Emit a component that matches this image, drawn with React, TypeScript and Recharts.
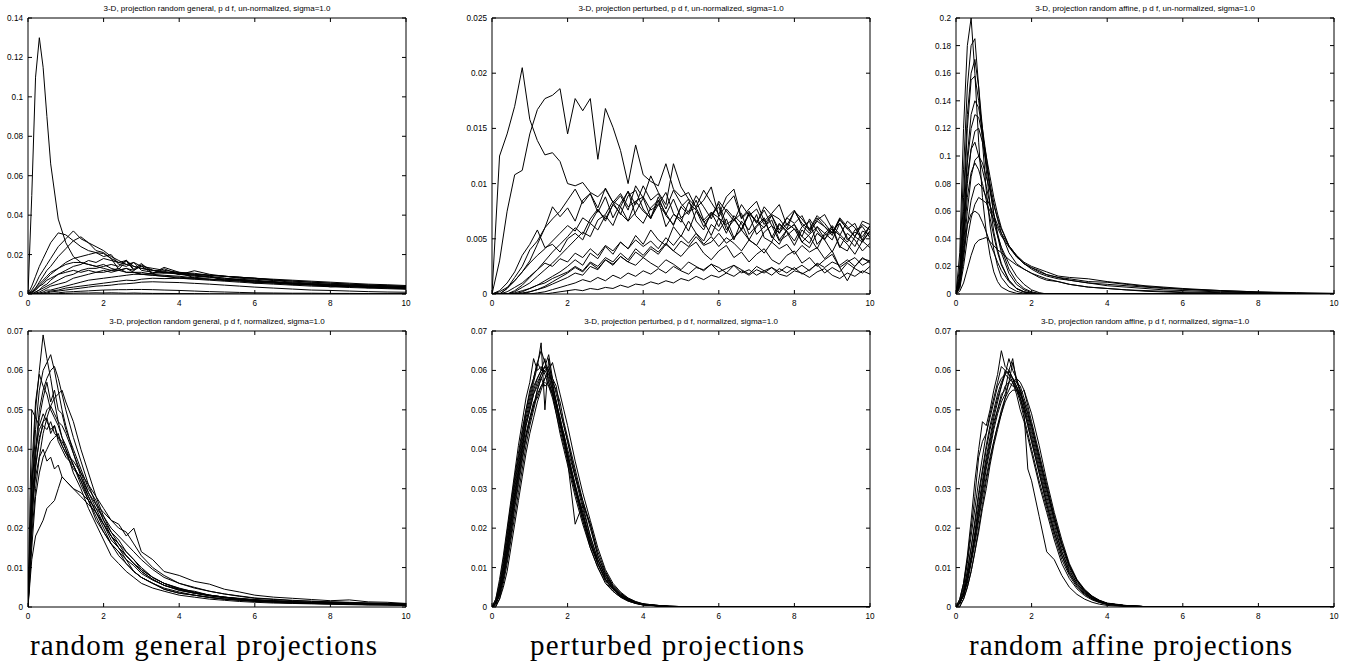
import React from 'react';
import { LineChart, Line, XAxis, YAxis, ReferenceArea } from 'recharts';

// x grids (distance) for each panel
const xsGeneralRaw = [0, .1, .2, .3, .4, .5, .6, .8, 1, 1.2, 1.4, 1.6, 1.8, 2, 2.2, 2.4, 2.6, 2.8, 3, 3.3, 3.6, 4, 4.4, 4.8, 5.2, 5.6, 6, 6.5, 7, 7.5, 8, 8.5, 9, 9.5, 10];
const xsPerturbedRaw = [0, .2, .4, .6, .8, 1, 1.2, 1.4, 1.6, 1.8, 2, 2.2, 2.4, 2.6, 2.8, 3, 3.2, 3.4, 3.6, 3.8, 4, 4.2, 4.4, 4.6, 4.8, 5, 5.2, 5.4, 5.6, 5.8, 6, 6.2, 6.4, 6.6, 6.8, 7, 7.2, 7.4, 7.6, 7.8, 8, 8.2, 8.4, 8.6, 8.8, 9, 9.2, 9.4, 9.6, 9.8, 10];
const xsAffineRaw = [0, .1, .2, .3, .4, .5, .6, .7, .8, .9, 1, 1.1, 1.2, 1.4, 1.6, 1.8, 2, 2.2, 2.4, 2.7, 3, 3.5, 4, 4.5, 5, 5.5, 6, 7, 8, 9, 10];
const xsGeneralNorm = [0, .1, .2, .3, .4, .5, .6, .7, .8, .9, 1, 1.2, 1.4, 1.6, 1.8, 2, 2.2, 2.4, 2.6, 2.8, 3, 3.3, 3.6, 4, 4.4, 4.8, 5.2, 5.6, 6, 6.5, 7, 7.5, 8, 8.5, 9, 9.5, 10];
const xsBell = [0, .1, .2, .3, .4, .5, .6, .7, .8, .9, 1, 1.1, 1.2, 1.3, 1.4, 1.5, 1.6, 1.7, 1.8, 1.9, 2, 2.2, 2.4, 2.6, 2.8, 3, 3.2, 3.4, 3.6, 3.8, 4, 4.5, 5, 6, 7, 8, 9, 10];

const xTicks = [0, 2, 4, 6, 8, 10];
const ticksGeneralRaw = [0, 0.02, 0.04, 0.06, 0.08, 0.1, 0.12, 0.14];
const ticksPerturbedRaw = [0, 0.005, 0.01, 0.015, 0.02, 0.025];
const ticksAffineRaw = [0, 0.02, 0.04, 0.06, 0.08, 0.1, 0.12, 0.14, 0.16, 0.18, 0.2];
const ticksNorm = [0, 0.01, 0.02, 0.03, 0.04, 0.05, 0.06, 0.07];

const generalRaw = [
  [0, .05, .11, .13, .115, .09, .066, .038, .026, .019, .016, .015, .014, .013, .012, .013, .011, .011, .010, .0095, .009, .008, .0075, .007, .0065, .006, .0055, .005, .0045, .004, .0037, .0033, .003, .0027, .0024],
  [0, .004, .009, .014, .018, .022, .026, .031, .030, .027, .024, .022, .021, .019, .020, .015, .014, .016, .012, .011, .0105, .0108, .0082, .0091, .0068, .0074, .0055, .0063, .0047, .0052, .0036, .0043, .0031, .0036, .0026],
  [0, .002, .005, .009, .012, .015, .018, .024, .028, .032, .028, .026, .022, .021, .018, .016, .017, .014, .013, .012, .011, .010, .009, .0085, .0075, .007, .0065, .006, .0052, .0047, .0043, .004, .0036, .0032, .003],
  [0, .001, .003, .006, .009, .012, .014, .019, .023, .027, .029, .026, .024, .022, .019, .017, .015, .014, .013, .012, .0115, .010, .0095, .0085, .008, .0072, .0066, .006, .0054, .0049, .0045, .004, .0037, .0034, .0031],
  [0, .001, .002, .004, .006, .008, .010, .013, .016, .018, .019, .020, .021, .0205, .018, .0125, .0168, .012, .0148, .012, .011, .0105, .0095, .009, .008, .0075, .007, .0062, .0056, .005, .0046, .0042, .0038, .0035, .0032],
  [0, 0, .001, .002, .004, .005, .007, .010, .012, .014, .015, .017, .016, .018, .017, .016, .015, .016, .014, .013, .012, .011, .0105, .0095, .009, .008, .0075, .0068, .006, .0055, .005, .0045, .0041, .0037, .0034],
  [0, 0, .001, .002, .003, .004, .005, .007, .009, .010, .012, .013, .013, .014, .015, .014, .0172, .0125, .0155, .0105, .0135, .011, .010, .0095, .009, .0085, .008, .007, .0065, .006, .0055, .005, .0045, .0042, .0038],
  [0, 0, .0005, .001, .002, .003, .004, .005, .006, .008, .009, .010, .011, .011, .012, .012, .013, .012, .0142, .0102, .0128, .0098, .0118, .010, .009, .0085, .008, .0072, .0066, .006, .0055, .005, .0046, .0042, .004],
  [0, 0, 0, .0005, .001, .002, .002, .003, .004, .005, .006, .007, .0075, .008, .0085, .009, .0095, .010, .010, .0105, .011, .0105, .010, .0095, .009, .0085, .008, .0075, .007, .0065, .006, .0055, .005, .0047, .0043],
  [0, 0, 0, 0, .0005, .001, .0015, .002, .003, .0035, .004, .0045, .005, .0055, .006, .0065, .007, .0068, .0075, .008, .0078, .008, .0077, .0075, .0072, .007, .0066, .006, .0056, .0052, .0048, .0045, .0042, .004, .0037],
  [0, 0, 0, 0, 0, .0005, .001, .0015, .002, .0025, .003, .0035, .004, .0042, .0045, .005, .0052, .0055, .006, .0062, .006, .0058, .0054, .005, .0045, .004, .0035, .003, .0025, .002, .0018, .0015, .0012, .001, .0009],
  [0, 0, 0, 0, 0, 0, .0003, .0006, .001, .0012, .0014, .0016, .0018, .002, .0021, .0022, .0022, .0023, .0023, .0022, .002, .0018, .0015, .0012, .001, .0008, .0006, .0005, .0004, .0004, .0003, .0003, .0002, .0002, .0002],
  [0, 0, 0, 0, 0, 0, 0, .0002, .0003, .0004, .0005, .0005, .0006, .0005, .0006, .0005, .0004, .0005, .0004, .0003, .0003, .0002, .0002, .0001, .0001, 0, 0, 0, 0, 0, 0, 0, 0, 0, 0],
  [0, .001, .003, .005, .007, .009, .011, .013, .015, .016, .016, .015, .014, .015, .013, .012, .013, .011, .011, .010, .0095, .009, .0082, .0075, .007, .0065, .006, .0055, .005, .0045, .0041, .0037, .0034, .003, .0027],
  [0, .0005, .002, .004, .005, .007, .008, .010, .011, .012, .011, .012, .011, .012, .011, .012, .011, .011, .010, .0095, .009, .0085, .008, .0075, .007, .0066, .006, .0055, .005, .0046, .0042, .0038, .0035, .0032, .003],
];

const perturbedRaw = [
  [0, .0125, .0145, .017, .0205, .0158, .0139, .0126, .0128, .012, .010, .0098, .0101, .0092, .0088, .0095, .0083, .0091, .0079, .0084, .0088, .0076, .0081, .0072, .0086, .0069, .0075, .0078, .0065, .0071, .0082, .0063, .0068, .0058, .0074, .0066, .006, .0071, .0055, .0064, .0059, .0052, .0068, .0057, .0049, .0062, .0054, .0047, .0058, .0061, .0051],
  [0, .003, .0075, .0108, .0112, .0145, .0167, .0177, .018, .0186, .0145, .0177, .0166, .0177, .0122, .0168, .0151, .013, .010, .0135, .0108, .0102, .0098, .0118, .0095, .0088, .0092, .0078, .0085, .0097, .007, .0081, .0089, .0068, .0075, .0064, .0079, .0071, .0058, .0069, .0076, .0062, .0055, .0067, .0072, .0059, .0053, .0066, .006, .0048, .0057],
  [0, 0, .0005, .0015, .0025, .004, .0048, .006, .0068, .0075, .0085, .0095, .0082, .0091, .0078, .0096, .0083, .0072, .0089, .0094, .0077, .0068, .0085, .0073, .0062, .0079, .0086, .0066, .0058, .0074, .0069, .0055, .0071, .0064, .0049, .0061, .0067, .0052, .0045, .0058, .0063, .0047, .0042, .0055, .0049, .0038, .0052, .0045, .0036, .0048, .0042],
  [0, .0003, .001, .002, .0035, .0045, .0058, .0042, .0045, .0038, .005, .0055, .0049, .0064, .0058, .0071, .0062, .0079, .0066, .0074, .0087, .0069, .0081, .0092, .0073, .0065, .0083, .0076, .0061, .0072, .0079, .0058, .0067, .0073, .0054, .0062, .0069, .0051, .0064, .0057, .0048, .0061, .0066, .0045, .0053, .0059, .0042, .0055, .0049, .0039, .0046],
  [0, 0, .0005, .0012, .002, .003, .0045, .006, .0079, .007, .0078, .0066, .0085, .0091, .0074, .0088, .0069, .0082, .0093, .0071, .0064, .0078, .0085, .0061, .0072, .0068, .0057, .0075, .0066, .0053, .0069, .0062, .0049, .0066, .0058, .0072, .0051, .0047, .0063, .0056, .0044, .0058, .0052, .0041, .0055, .0061, .0043, .0039, .0052, .0047, .0057],
  [0, 0, 0, .0003, .0008, .0015, .0022, .003, .0038, .0045, .0052, .006, .0054, .0068, .0077, .0066, .0081, .0089, .0076, .0098, .0087, .0107, .0092, .0081, .0118, .0097, .0086, .0079, .0094, .0083, .0072, .0088, .0095, .0069, .0077, .0084, .0066, .0073, .0081, .0062, .0075, .0068, .0059, .0071, .0064, .0055, .0069, .0061, .0052, .0066, .0063],
  [0, 0, 0, 0, .0002, .0005, .0008, .0012, .0016, .002, .0025, .0031, .0026, .0037, .0032, .0043, .0036, .0047, .0041, .0053, .0045, .0058, .0049, .0044, .0061, .0052, .0066, .0055, .0048, .0063, .0057, .0068, .0051, .0059, .0072, .0054, .0061, .0067, .0049, .0058, .0063, .0052, .0046, .0061, .0055, .0049, .0064, .0051, .0043, .0057, .0054],
  [0, 0, 0, 0, 0, .0002, .0004, .0006, .0009, .0012, .0015, .0019, .0017, .0025, .0022, .0031, .0026, .0034, .0029, .0038, .0033, .0041, .0036, .0045, .0039, .0048, .0043, .0052, .0044, .0047, .0055, .0046, .0051, .0058, .0049, .0044, .0056, .0062, .0048, .0053, .0059, .0047, .0054, .0061, .005, .0057, .0064, .0049, .0056, .0052, .0062],
  [0, 0, 0, .0001, .0003, .0005, .0008, .001, .0014, .0017, .002, .0025, .0021, .0029, .0025, .0033, .0029, .0037, .0031, .0041, .0035, .0043, .0038, .0046, .0039, .0034, .0042, .0047, .0037, .0031, .0039, .0044, .0033, .0038, .0029, .0036, .0041, .0031, .0027, .0035, .0039, .0028, .0033, .0025, .0031, .0036, .0024, .0029, .0033, .0026, .003],
  [0, 0, 0, 0, 0, 0, .0001, .0002, .0004, .0006, .0008, .001, .0013, .0011, .0015, .0012, .0017, .0014, .0019, .0016, .0021, .0018, .0023, .0019, .0025, .0021, .0018, .0024, .0022, .0027, .002, .0023, .0026, .0019, .0022, .0017, .0021, .0024, .0018, .0016, .0021, .0019, .0015, .002, .0023, .0017, .0014, .0019, .0016, .0021, .0018],
  [0, 0, 0, 0, 0, 0, 0, 0, .0001, .0002, .0003, .0004, .0003, .0005, .0004, .0006, .0005, .0008, .0006, .0009, .0008, .0011, .0009, .0012, .001, .0014, .0012, .0016, .0013, .0017, .0015, .0019, .0016, .0021, .0017, .0022, .0019, .0024, .002, .0025, .0022, .0026, .0021, .0028, .0024, .0029, .0026, .0031, .0025, .0032, .003],
  [0, 0, 0, .0002, .0006, .001, .0016, .0022, .0028, .0035, .0042, .0049, .0056, .0052, .0067, .0072, .0084, .0079, .0093, .0081, .0098, .0085, .0091, .0077, .0094, .0082, .0074, .0089, .0079, .0068, .0084, .0075, .0066, .0081, .0071, .0077, .0063, .0072, .0068, .0059, .0075, .0064, .0058, .0069, .0061, .0055, .0067, .0059, .0052, .0063, .0058],
  [0, 0, .0002, .0006, .001, .0016, .0022, .0028, .0025, .0032, .0029, .0037, .0033, .0041, .0035, .0044, .0039, .0047, .0041, .0049, .0043, .0048, .0041, .0051, .0044, .0053, .0046, .0055, .0045, .0052, .0043, .0051, .0046, .0039, .0049, .0044, .0037, .0047, .0041, .0045, .0036, .0044, .0038, .0042, .0032, .0039, .0024, .0012, .0025, .0033, .0028],
  [0, 0, 0, 0, .0001, .0002, .0004, .0007, .0011, .0015, .0019, .0024, .002, .0028, .0023, .0031, .0027, .0034, .0029, .0026, .0033, .0028, .0024, .0031, .0027, .0022, .0029, .0025, .0021, .0027, .0024, .0019, .0026, .0022, .0018, .0025, .0021, .0017, .0023, .0019, .0024, .0018, .0022, .0027, .0019, .0024, .002, .0028, .0023, .0019, .0025],
  [0, .0002, .0006, .0012, .002, .0028, .0035, .0041, .0048, .0055, .0062, .0057, .0069, .0064, .0076, .0068, .0081, .0073, .0066, .0084, .0075, .0069, .0088, .0071, .0063, .0079, .0072, .0085, .0067, .0074, .0061, .0077, .0069, .0058, .0073, .0065, .0076, .0062, .0055, .0069, .0064, .0071, .0057, .0066, .0061, .0053, .0068, .0059, .0064, .0049, .0062],
];

const affineRaw = [
  [0, .03, .12, .18, .2, .16, .11, .07, .045, .028, .016, .009, .005, .002, .0005, 0, 0, 0, 0, 0, 0, 0, 0, 0, 0, 0, 0, 0, 0, 0, 0],
  [0, .02, .09, .15, .18, .185, .15, .11, .075, .05, .032, .02, .012, .005, .002, .0005, 0, 0, 0, 0, 0, 0, 0, 0, 0, 0, 0, 0, 0, 0, 0],
  [0, .015, .07, .13, .16, .17, .15, .12, .09, .065, .045, .032, .022, .01, .004, .0015, .0005, 0, 0, 0, 0, 0, 0, 0, 0, 0, 0, 0, 0, 0, 0],
  [0, .01, .06, .12, .155, .158, .14, .12, .10, .078, .058, .042, .03, .015, .007, .003, .001, 0, 0, 0, 0, 0, 0, 0, 0, 0, 0, 0, 0, 0, 0],
  [0, .01, .05, .1, .13, .14, .135, .118, .095, .075, .058, .044, .033, .018, .009, .004, .0015, .0005, 0, 0, 0, 0, 0, 0, 0, 0, 0, 0, 0, 0, 0],
  [0, .008, .04, .08, .105, .118, .12, .11, .095, .08, .066, .054, .044, .03, .022, .018, .015, .012, .01, .009, .007, .005, .004, .003, .0025, .002, .0015, .001, .0005, 0, 0],
  [0, .01, .045, .085, .105, .11, .1, .09, .078, .065, .052, .042, .034, .022, .013, .007, .003, .001, 0, 0, 0, 0, 0, 0, 0, 0, 0, 0, 0, 0, 0],
  [0, .006, .03, .06, .085, .097, .1, .095, .085, .075, .064, .055, .047, .035, .028, .023, .02, .018, .016, .013, .012, .011, .009, .0075, .006, .005, .004, .0025, .0015, .0005, 0],
  [0, .008, .035, .07, .088, .095, .09, .08, .068, .055, .042, .03, .021, .01, .004, .0015, .0005, 0, 0, 0, 0, 0, 0, 0, 0, 0, 0, 0, 0, 0, 0],
  [0, .005, .025, .05, .068, .078, .08, .077, .07, .064, .057, .05, .044, .035, .028, .022, .019, .017, .014, .012, .011, .009, .0085, .007, .0055, .0045, .0035, .002, .001, .0005, 0],
  [0, .004, .02, .04, .055, .065, .07, .068, .066, .06, .054, .048, .042, .034, .027, .022, .018, .015, .013, .011, .01, .008, .006, .005, .004, .003, .0025, .0015, .0008, .0003, 0],
  [0, .002, .008, .018, .028, .036, .039, .04, .041, .038, .035, .032, .03, .025, .021, .018, .015, .013, .011, .009, .007, .005, .004, .003, .002, .0015, .001, .0005, 0, 0, 0],
  [0, .012, .05, .095, .12, .13, .128, .115, .1, .085, .07, .058, .048, .035, .027, .022, .019, .016, .014, .012, .01, .008, .007, .006, .005, .004, .0035, .0025, .0015, .001, .0005],
  [0, .008, .03, .05, .058, .06, .058, .052, .045, .037, .03, .023, .017, .009, .004, .0015, .0005, 0, 0, 0, 0, 0, 0, 0, 0, 0, 0, 0, 0, 0, 0],
];

const generalNorm = [
  [0, .03, .05, .06, .069, .063, .058, .052, .047, .043, .04, .034, .03, .025, .021, .017, .013, .011, .009, .0075, .006, .0048, .004, .003, .0025, .002, .0017, .0014, .0012, .001, .0009, .0008, .0007, .0006, .0005, .0005, .0004],
  [0, .028, .045, .055, .06, .062, .064, .06, .055, .05, .046, .039, .033, .028, .024, .02, .016, .014, .012, .009, .0075, .006, .0045, .0035, .003, .0025, .002, .0018, .0015, .0012, .001, .0009, .0008, .0007, .0006, .0006, .0005],
  [0, .025, .04, .05, .055, .058, .06, .061, .058, .054, .05, .043, .037, .031, .026, .022, .018, .015, .013, .011, .009, .007, .0055, .0045, .0035, .003, .0025, .002, .0017, .0015, .0012, .001, .0009, .0008, .0007, .0006, .0005],
  [0, .035, .052, .059, .056, .054, .05, .048, .046, .043, .041, .036, .032, .027, .023, .019, .016, .014, .011, .009, .0075, .006, .0045, .0035, .003, .0024, .002, .0017, .0014, .0012, .001, .0009, .0008, .0007, .0006, .0005, .0004],
  [0, .02, .038, .048, .053, .057, .052, .055, .05, .049, .045, .04, .035, .03, .027, .022, .019, .016, .014, .012, .01, .0075, .006, .0045, .004, .003, .0025, .0021, .0018, .0015, .0013, .0011, .001, .0009, .0008, .0007, .0006],
  [0, .026, .036, .042, .047, .05, .051, .049, .047, .046, .044, .039, .034, .029, .025, .021, .018, .015, .013, .011, .009, .007, .0055, .0042, .0035, .0028, .0023, .002, .0017, .0014, .0012, .0011, .001, .0009, .0008, .0007, .0006],
  [0, .032, .04, .045, .047, .048, .044, .046, .042, .04, .038, .036, .032, .028, .024, .021, .017, .015, .012, .0105, .0085, .0068, .0055, .0043, .0035, .0029, .0024, .002, .0017, .0015, .0013, .0011, .001, .0009, .0008, .0007, .0006],
  [0, .015, .028, .034, .038, .04, .042, .043, .044, .041, .039, .037, .034, .031, .028, .025, .022, .02, .019, .016, .013, .01, .008, .006, .005, .004, .0033, .0027, .0022, .0019, .0016, .0014, .0013, .0011, .001, .0009, .0008],
  [0, .025, .033, .038, .04, .037, .038, .035, .036, .033, .032, .03, .028, .026, .024, .021, .018, .016, .013, .011, .0095, .0075, .006, .0048, .0038, .003, .0025, .0022, .0019, .0016, .0014, .0012, .0011, .001, .0009, .0008, .0007],
  [0, .012, .018, .02, .022, .025, .026, .027, .03, .033, .032, .03, .029, .027, .025, .023, .02, .018, .016, .014, .012, .0095, .0075, .006, .0048, .004, .0033, .0028, .0023, .002, .0017, .0015, .0013, .0012, .001, .0009, .0008],
  [0, .018, .03, .038, .044, .048, .051, .053, .054, .055, .052, .047, .04, .034, .028, .023, .019, .017, .014, .012, .0095, .0075, .006, .0047, .0037, .003, .0025, .0021, .0018, .0016, .0013, .0011, .001, .0009, .0008, .0007, .0006],
  [0, .022, .035, .043, .046, .045, .047, .044, .043, .041, .039, .035, .033, .029, .026, .024, .022, .021, .018, .02, .014, .012, .009, .008, .0065, .0058, .0045, .0038, .003, .0025, .0022, .0019, .0016, .0018, .0013, .0012, .0009],
  [0, .05, .048, .046, .049, .047, .045, .046, .043, .042, .04, .036, .031, .027, .022, .019, .016, .013, .011, .009, .0075, .006, .0048, .0038, .003, .0024, .002, .0017, .0015, .0013, .0011, .001, .0009, .0008, .0007, .0006, .0005],
];

const perturbedNorm = [
  [0, .001, .004, .009, .015, .022, .029, .035, .041, .047, .051, .055, .058, .06, .06, .058, .055, .051, .047, .043, .039, .031, .023, .017, .011, .007, .0045, .0028, .0017, .001, .0006, .0002, 0, 0, 0, 0, 0, 0],
  [0, .002, .006, .012, .019, .026, .033, .039, .045, .05, .055, .058, .062, .06, .063, .057, .054, .049, .045, .041, .037, .029, .022, .015, .01, .006, .004, .0025, .0015, .0009, .0005, .0002, 0, 0, 0, 0, 0, 0],
  [0, .0005, .002, .006, .011, .017, .023, .029, .035, .041, .046, .05, .054, .056, .058, .059, .057, .055, .052, .047, .043, .035, .027, .02, .013, .0085, .0055, .0035, .002, .0012, .0007, .0003, .0001, 0, 0, 0, 0, 0],
  [0, .001, .005, .01, .017, .024, .031, .037, .043, .049, .053, .057, .061, .067, .05, .063, .056, .052, .046, .044, .038, .03, .024, .016, .012, .0075, .0048, .003, .0018, .0011, .0006, .0002, 0, 0, 0, 0, 0, 0],
  [0, .001, .003, .008, .014, .021, .028, .034, .04, .046, .05, .054, .056, .059, .061, .064, .058, .056, .05, .046, .042, .034, .026, .021, .014, .009, .0055, .0035, .0022, .0013, .0008, .0003, .0001, 0, 0, 0, 0, 0],
  [0, .001, .004, .008, .013, .02, .027, .033, .039, .044, .048, .052, .053, .056, .057, .056, .054, .05, .046, .042, .038, .03, .023, .016, .011, .007, .0045, .0028, .0017, .001, .0006, .0002, 0, 0, 0, 0, 0, 0],
  [0, .002, .007, .013, .02, .027, .034, .041, .047, .053, .057, .063, .06, .061, .059, .056, .053, .049, .044, .04, .036, .028, .021, .015, .01, .0065, .004, .0025, .0015, .0009, .0005, .0002, 0, 0, 0, 0, 0, 0],
  [0, .001, .004, .009, .015, .022, .028, .034, .04, .046, .05, .054, .057, .059, .061, .06, .057, .052, .048, .043, .037, .021, .026, .018, .012, .008, .005, .003, .0018, .0011, .0007, .0002, 0, 0, 0, 0, 0, 0],
  [0, 0, .002, .005, .009, .015, .021, .027, .033, .039, .044, .048, .052, .055, .058, .06, .062, .058, .054, .05, .046, .037, .029, .022, .015, .0095, .006, .0038, .0023, .0014, .0008, .0003, .0001, 0, 0, 0, 0, 0],
  [0, .0015, .005, .011, .018, .025, .032, .038, .044, .05, .054, .058, .062, .065, .062, .06, .056, .052, .047, .043, .039, .031, .024, .017, .011, .007, .0045, .0028, .0017, .001, .0006, .0002, 0, 0, 0, 0, 0, 0],
  [0, .001, .005, .01, .016, .023, .03, .036, .042, .048, .052, .056, .058, .06, .061, .059, .055, .051, .047, .042, .038, .03, .022, .016, .011, .007, .0045, .0028, .0017, .001, .0006, .0002, 0, 0, 0, 0, 0, 0],
  [0, .001, .003, .007, .013, .019, .026, .032, .038, .043, .048, .051, .055, .058, .056, .057, .054, .052, .048, .044, .04, .033, .025, .018, .012, .0078, .005, .0031, .0019, .0012, .0007, .0002, 0, 0, 0, 0, 0, 0],
  [0, .0005, .003, .007, .012, .018, .025, .031, .037, .043, .047, .051, .055, .058, .06, .061, .058, .054, .05, .046, .042, .033, .027, .021, .013, .0085, .0052, .0033, .002, .0012, .0007, .0002, 0, 0, 0, 0, 0, 0],
];

const affineNorm = [
  [0, .001, .003, .007, .012, .018, .024, .03, .036, .041, .046, .05, .053, .056, .057, .058, .057, .055, .052, .049, .045, .037, .029, .022, .015, .01, .0065, .004, .0025, .0015, .0009, .0003, .0001, 0, 0, 0, 0, 0],
  [0, .002, .006, .013, .022, .032, .04, .047, .046, .05, .055, .059, .065, .061, .06, .058, .056, .053, .05, .046, .042, .034, .026, .019, .013, .0085, .0055, .0035, .0021, .0013, .0008, .0003, .0001, 0, 0, 0, 0, 0],
  [0, .001, .004, .009, .015, .022, .029, .035, .041, .046, .05, .054, .057, .059, .06, .058, .055, .053, .049, .035, .032, .023, .014, .012, .008, .005, .0032, .002, .0012, .0007, .0004, .0001, 0, 0, 0, 0, 0, 0],
  [0, .001, .003, .008, .013, .019, .026, .032, .038, .043, .048, .052, .056, .059, .063, .06, .058, .055, .051, .047, .043, .035, .027, .02, .014, .009, .006, .0037, .0022, .0013, .0008, .0003, .0001, 0, 0, 0, 0, 0],
  [0, 0, .002, .005, .009, .014, .02, .026, .032, .037, .042, .046, .05, .053, .055, .057, .058, .057, .055, .052, .049, .041, .032, .024, .017, .011, .007, .0045, .0028, .0017, .001, .0004, .0001, 0, 0, 0, 0, 0],
  [0, .0015, .005, .011, .018, .025, .032, .038, .044, .049, .053, .057, .061, .06, .059, .057, .054, .05, .047, .043, .039, .031, .024, .017, .011, .0072, .0046, .0029, .0018, .0011, .0006, .0002, 0, 0, 0, 0, 0, 0],
  [0, .001, .003, .007, .012, .018, .025, .031, .037, .042, .047, .05, .054, .055, .06, .063, .057, .056, .053, .05, .046, .038, .03, .022, .016, .0105, .0068, .0042, .0026, .0016, .0009, .0003, .0001, 0, 0, 0, 0, 0],
  [0, .002, .006, .012, .02, .028, .038, .042, .044, .048, .052, .056, .058, .059, .058, .057, .055, .052, .048, .044, .04, .032, .025, .018, .012, .008, .005, .0032, .002, .0012, .0007, .0002, 0, 0, 0, 0, 0, 0],
  [0, .001, .003, .006, .011, .016, .022, .028, .033, .038, .042, .046, .049, .052, .054, .055, .055, .054, .052, .049, .046, .038, .03, .023, .016, .0105, .0068, .0043, .0027, .0016, .0009, .0003, .0001, 0, 0, 0, 0, 0],
  [0, .001, .004, .009, .015, .021, .028, .034, .04, .045, .049, .053, .056, .06, .059, .058, .056, .053, .05, .046, .042, .034, .026, .019, .013, .0085, .0055, .0034, .0021, .0013, .0008, .0003, .0001, 0, 0, 0, 0, 0],
  [0, .001, .003, .007, .012, .017, .023, .029, .035, .04, .045, .049, .052, .054, .057, .062, .058, .054, .055, .051, .047, .039, .031, .023, .016, .0105, .0068, .0042, .0026, .0016, .0009, .0003, .0001, 0, 0, 0, 0, 0],
  [0, .0005, .002, .005, .009, .014, .019, .025, .03, .036, .041, .045, .049, .053, .057, .056, .056, .054, .051, .048, .044, .036, .028, .021, .014, .0095, .006, .0038, .0023, .0014, .0008, .0003, .0001, 0, 0, 0, 0, 0],
];

const titles = [
  '3-D, projection random general, p d f, un-normalized, sigma=1.0',
  '3-D, projection perturbed, p d f, un-normalized, sigma=1.0',
  '3-D, projection random affine, p d f, un-normalized, sigma=1.0',
  '3-D, projection random general, p d f, normalized, sigma=1.0',
  '3-D, projection perturbed, p d f, normalized, sigma=1.0',
  '3-D, projection random affine, p d f, normalized, sigma=1.0',
];
const captions = ['random general projections', 'perturbed projections', 'random affine projections'];

const PW = 378;
const PH = 276;
const LW = 40; // room for y tick labels
const MT = 4;
const SANS = '"Liberation Sans", Arial, sans-serif';
const FS = 8.2;

// gnuplot style: tick marks point inwards, mirrored on the opposite side
const XTick = (props: any) => {
  const { x, payload } = props;
  return (
    <g>
      <line x1={x} y1={MT + PH} x2={x} y2={MT + PH - 4} stroke="#000" />
      <line x1={x} y1={MT} x2={x} y2={MT + 4} stroke="#000" />
      <text x={x} y={MT + PH + 12} textAnchor="middle" fill="#000" fontSize={FS} fontFamily={SANS}>
        {String(payload.value)}
      </text>
    </g>
  );
};

const YTick = (props: any) => {
  const { y, payload } = props;
  return (
    <g>
      <line x1={LW} y1={y} x2={LW + 4} y2={y} stroke="#000" />
      <line x1={LW + PW} y1={y} x2={LW + PW - 4} y2={y} stroke="#000" />
      <text x={LW - 5} y={y + 3} textAnchor="end" fill="#000" fontSize={FS} fontFamily={SANS}>
        {String(payload.value)}
      </text>
    </g>
  );
};

function Panel({ left, top, title, xs, curves, yMax, yTicks }: any) {
  const data = xs.map((x: number, i: number) => {
    const row: Record<string, number> = { x };
    curves.forEach((c: number[], j: number) => {
      row['c' + j] = c[i];
    });
    return row;
  });
  return (
    <>
      <div
        style={{
          position: 'absolute', left, top: top - 14, width: PW, height: 10,
          lineHeight: '10px', textAlign: 'center', fontSize: 8, fontFamily: SANS, color: '#000',
        }}
      >
        {title}
      </div>
      <div style={{ position: 'absolute', left: left - LW, top: top - MT }}>
        <LineChart width={LW + PW + 6} height={MT + PH + 20} data={data} margin={{ top: MT, right: 6, bottom: 0, left: 0 }}>
          <XAxis dataKey="x" type="number" domain={[0, 10]} ticks={xTicks} interval={0} allowDataOverflow
            height={20} axisLine={false} tickLine={false} tick={<XTick />} />
          <YAxis type="number" domain={[0, yMax]} ticks={yTicks} interval={0} allowDataOverflow width={LW}
            axisLine={false} tickLine={false} tick={<YTick />} />
          {curves.map((_: number[], j: number) => (
            <Line key={j} type="linear" dataKey={'c' + j} stroke="#000" strokeWidth={1} dot={false}
              activeDot={false} isAnimationActive={false} />
          ))}
          <ReferenceArea x1={0} x2={10} y1={0} y2={yMax} fill="none" fillOpacity={0} stroke="#000" strokeWidth={1}
            ifOverflow="visible" />
        </LineChart>
      </div>
    </>
  );
}

export default function App() {
  const cols = [28, 492, 956];
  const rows = [18, 331];
  return (
    <div style={{ position: 'absolute', left: 0, top: 0, width: 1350, height: 664, background: '#fff', overflow: 'hidden' }}>
      <Panel left={cols[0]} top={rows[0]} title={titles[0]} xs={xsGeneralRaw} curves={generalRaw} yMax={0.14} yTicks={ticksGeneralRaw} />
      <Panel left={cols[1]} top={rows[0]} title={titles[1]} xs={xsPerturbedRaw} curves={perturbedRaw} yMax={0.025} yTicks={ticksPerturbedRaw} />
      <Panel left={cols[2]} top={rows[0]} title={titles[2]} xs={xsAffineRaw} curves={affineRaw} yMax={0.2} yTicks={ticksAffineRaw} />
      <Panel left={cols[0]} top={rows[1]} title={titles[3]} xs={xsGeneralNorm} curves={generalNorm} yMax={0.07} yTicks={ticksNorm} />
      <Panel left={cols[1]} top={rows[1]} title={titles[4]} xs={xsBell} curves={perturbedNorm} yMax={0.07} yTicks={ticksNorm} />
      <Panel left={cols[2]} top={rows[1]} title={titles[5]} xs={xsBell} curves={affineNorm} yMax={0.07} yTicks={ticksNorm} />
      <svg width={1350} height={664} style={{ position: 'absolute', left: 0, top: 0, pointerEvents: 'none' }}>
        <g fontFamily='"Liberation Serif", "Times New Roman", serif' fontSize={29} fill="#000">
          <text x={30} y={655} textLength={347} lengthAdjust="spacing">{captions[0]}</text>
          <text x={530} y={655} textLength={274} lengthAdjust="spacing">{captions[1]}</text>
          <text x={969} y={655} textLength={323} lengthAdjust="spacing">{captions[2]}</text>
        </g>
      </svg>
    </div>
  );
}
